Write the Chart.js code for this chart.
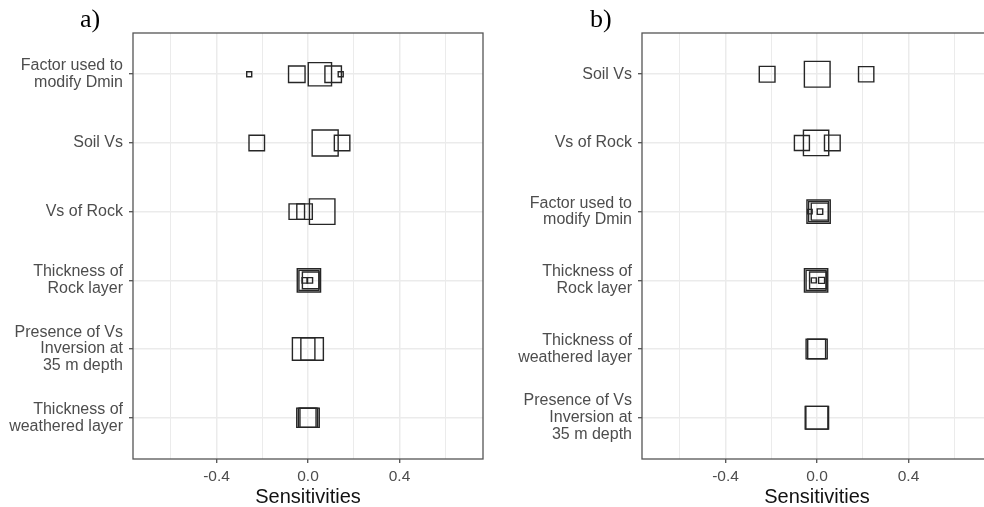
<!DOCTYPE html>
<html>
<head>
<meta charset="utf-8">
<script src="https://cdn.jsdelivr.net/npm/chart.js@4/dist/chart.umd.min.js"></script>
<style>
  html, body { margin: 0; padding: 0; background: #ffffff; overflow: hidden; }
  body { width: 984px; height: 507px; position: relative; }
  canvas { position: absolute; top: 0; }
  #panelA { left: 0; }
  #panelB { left: 490px; }
  .tag { position: absolute; font-family: "Liberation Serif", "DejaVu Serif", serif; font-size: 26px; line-height: 26px; color: #000; }
</style>
</head>
<body>
<canvas id="panelA" width="490" height="507"></canvas>
<canvas id="panelB" width="510" height="507"></canvas>
<div class="tag" style="left:80px; top:6px;">a)</div>
<div class="tag" style="left:590px; top:6px;">b)</div>
<script>
// ---- data: panel a ----
const categoriesA = [
  "Factor used to\nmodify Dmin",
  "Soil Vs",
  "Vs of Rock",
  "Thickness of\nRock layer",
  "Presence of Vs\nInversion at\n35 m depth",
  "Thickness of\nweathered layer"
];
const rowsA    = [0, 0, 0, 0, 0,   1, 1, 1,   2, 2, 2,   3, 3, 3, 3, 3,   4, 4,   5, 5, 5];
const sensA    = [-0.257, -0.049, 0.052, 0.110, 0.143,
                  -0.224, 0.075, 0.149,
                  -0.049, -0.015, 0.062,
                  0.004, 0.004, 0.012, -0.014, 0.008,
                  -0.019, 0.018,
                  -0.007, 0.000, 0.007];
const weightA  = [0.5, 1.65, 2.33, 1.65, 0.5,
                  1.55, 2.6, 1.55,
                  1.55, 1.55, 2.55,
                  2.33, 2.0, 1.67, 0.55, 0.55,
                  2.25, 2.25,
                  1.93, 1.93, 1.93];

// ---- data: panel b ----
const categoriesB = [
  "Soil Vs",
  "Vs of Rock",
  "Factor used to\nmodify Dmin",
  "Thickness of\nRock layer",
  "Thickness of\nweathered layer",
  "Presence of Vs\nInversion at\n35 m depth"
];
const rowsB    = [0, 0, 0,   1, 1, 1,   2, 2, 2, 2, 2,   3, 3, 3, 3, 3,   4, 4,   5, 5];
const sensB    = [-0.218, 0.001, 0.215,
                  -0.066, -0.004, 0.067,
                  0.007, 0.007, 0.012, 0.013, -0.031,
                  -0.004, -0.004, 0.004, -0.014, 0.020,
                  -0.005, 0.002,
                  -0.002, 0.001];
const weightB  = [1.57, 2.57, 1.53,
                  1.5, 2.53, 1.57,
                  2.33, 2.0, 1.7, 0.55, 0.45,
                  2.33, 2.0, 1.67, 0.5, 0.6,
                  1.95, 1.95,
                  2.27, 2.27];

// ---- x axis ticks ----
const xTicks = [-0.6, -0.4, -0.2, 0.0, 0.2, 0.4, 0.6];
const xLabelled = [-0.4, 0.0, 0.4];
const xLimits = [-0.765, 0.765];

// ---- styling ----
const SQUARE_PX = 10;          // marker side in px per unit of weight
const GRID = '#ebebeb';
const TEXT = '#4d4d4d';
const FONT = "'Liberation Sans', Arial, Helvetica, sans-serif";

const isLabelled = v => xLabelled.some(m => Math.abs(m - v) < 1e-9);

const panelBorder = {
  id: 'panelBorder',
  afterDraw(chart) {
    const a = chart.chartArea, c = chart.ctx;
    c.save();
    c.strokeStyle = '#555555';
    c.lineWidth = 1.3;
    c.strokeRect(a.left, a.top, a.right - a.left, a.bottom - a.top);
    c.restore();
  }
};

function makePanel(id, categories, rows, sens, weights, yAxisWidth, padRight) {
  const points = sens.map((v, i) => ({ x: v, y: rows[i] }));
  return new Chart(document.getElementById(id), {
    type: 'scatter',
    data: {
      datasets: [{
        data: points,
        pointStyle: 'rect',
        pointRadius: ctx => weights[ctx.dataIndex] * SQUARE_PX / Math.SQRT2,
        pointBorderWidth: 1.4,
        borderColor: '#262626',
        backgroundColor: 'rgba(0,0,0,0)',
        showLine: false
      }]
    },
    options: {
      responsive: false,
      animation: false,
      devicePixelRatio: 1,
      events: [],
      layout: { autoPadding: false, padding: { left: 0, right: padRight, top: 33, bottom: 0 } },
      plugins: { legend: { display: false }, tooltip: { enabled: false } },
      scales: {
        x: {
          type: 'linear',
          min: xLimits[0],
          max: xLimits[1],
          afterBuildTicks: s => { s.ticks = xTicks.map(v => ({ value: v })); },
          afterFit: s => { s.height = 48; },
          border: { display: false },
          grid: {
            color: GRID,
            lineWidth: ctx => isLabelled(ctx.tick.value) ? 1.5 : 1.0,
            tickLength: 4,
            tickWidth: 1.1,
            tickColor: ctx => isLabelled(ctx.tick.value) ? '#333333' : 'rgba(0,0,0,0)'
          },
          ticks: {
            padding: 4,
            maxRotation: 0,
            autoSkip: false,
            color: TEXT,
            font: { family: FONT, size: 15.5 },
            callback: v => isLabelled(v) ? v.toFixed(1) : ''
          },
          title: {
            display: true,
            text: 'Sensitivities',
            color: '#111111',
            font: { family: FONT, size: 20, lineHeight: 1 },
            padding: { top: 0, bottom: 0 }
          }
        },
        y: {
          type: 'linear',
          reverse: true,
          min: -0.6,
          max: categories.length - 0.4,
          afterBuildTicks: s => { s.ticks = categories.map((_, i) => ({ value: i })); },
          afterFit: s => { s.width = yAxisWidth; },
          border: { display: false },
          grid: {
            color: GRID,
            lineWidth: 1.5,
            tickLength: 4,
            tickWidth: 1.1,
            tickColor: '#333333'
          },
          ticks: {
            padding: 6,
            autoSkip: false,
            color: TEXT,
            font: { family: FONT, size: 16, lineHeight: 1.05 },
            callback: v => categories[Math.round(v)].split('\n')
          }
        }
      }
    },
    plugins: [panelBorder]
  });
}

makePanel('panelA', categoriesA, rowsA, sensA, weightA, 133, 7);
makePanel('panelB', categoriesB, rowsB, sensB, weightB, 152, 8);
</script>
</body>
</html>
